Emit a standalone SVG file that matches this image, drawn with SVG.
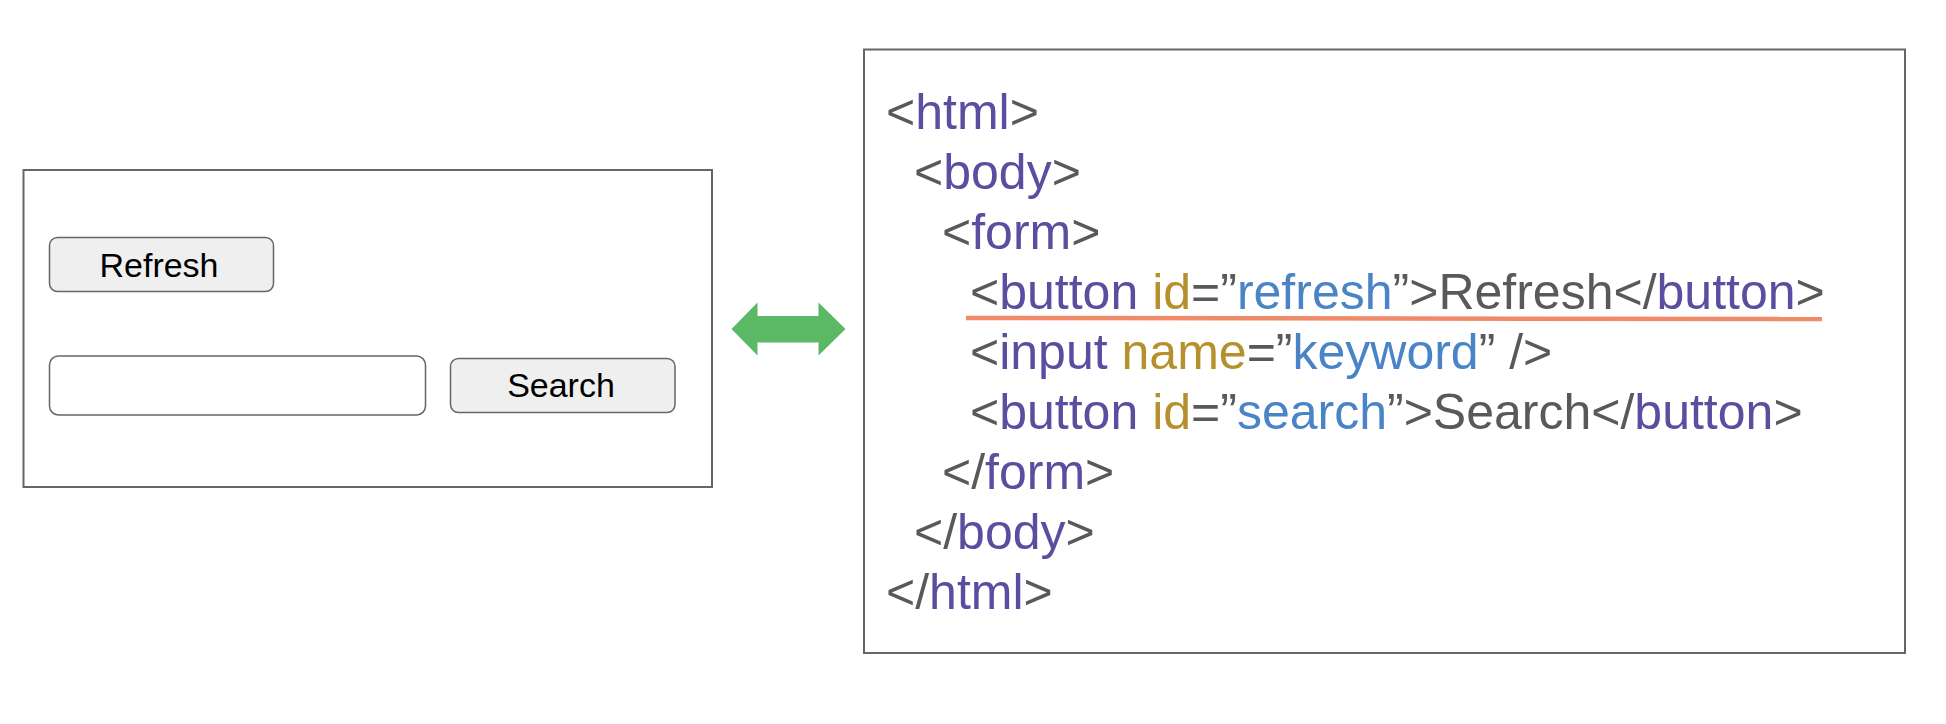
<svg xmlns="http://www.w3.org/2000/svg" width="1946" height="724" viewBox="0 0 1946 724">
<style>
.box{fill:#fff;stroke:#666;stroke-width:2}
.btn{fill:#efefef;stroke:#666;stroke-width:1.5}
.inp{fill:#fff;stroke:#666;stroke-width:1.5}
.lbl{font-family:"Liberation Sans",Arial,sans-serif;font-size:34px;fill:#000;text-anchor:middle}
.code{font-family:"Liberation Sans",Arial,sans-serif;font-size:50px;fill:#595959}
.p{fill:#5b4d9f}
.y{fill:#b6902c}
.b{fill:#4a84c6}
</style>
<rect width="1946" height="724" fill="#fff"/>
<g id="ui-window">
<rect class="box" x="23.5" y="170" width="688.5" height="317"/>
</g>
<g id="refresh-button">
<rect class="btn" x="49.5" y="237.5" width="224" height="54" rx="8"/>
<text class="lbl" x="159" y="277">Refresh</text>
</g>
<g id="keyword-input">
<rect class="inp" x="49.5" y="356" width="376" height="59" rx="9"/>
</g>
<g id="search-button">
<rect class="btn" x="450.5" y="358.5" width="224.5" height="54" rx="8"/>
<text class="lbl" x="561" y="397">Search</text>
</g>
<g id="connectors">
<polygon points="731.5,329 757.5,302.5 757.5,316 818.5,316 818.5,302.5 845.5,329 818.5,355.5 818.5,342.5 757.5,342.5 757.5,355.5" fill="#5bb865"/>
</g>
<g id="html-source">
<rect class="box" x="864" y="49.5" width="1041" height="603.5"/>
<text class="code" x="886" y="129">&lt;<tspan class="p">html</tspan>&gt;</text>
<text class="code" x="914" y="189">&lt;<tspan class="p">body</tspan>&gt;</text>
<text class="code" x="942" y="249">&lt;<tspan class="p">form</tspan>&gt;</text>
<text class="code" x="970" y="309">&lt;<tspan class="p">button</tspan> <tspan class="y">id</tspan>=”<tspan class="b">refresh</tspan>”&gt;Refresh&lt;/<tspan class="p">button</tspan>&gt;</text>
<text class="code" x="970" y="369">&lt;<tspan class="p">input</tspan> <tspan class="y">name</tspan>=”<tspan class="b">keyword</tspan>” /&gt;</text>
<text class="code" x="970" y="429">&lt;<tspan class="p">button</tspan> <tspan class="y">id</tspan>=”<tspan class="b">search</tspan>”&gt;Search&lt;/<tspan class="p">button</tspan>&gt;</text>
<text class="code" x="942" y="489">&lt;/<tspan class="p">form</tspan>&gt;</text>
<text class="code" x="914" y="549">&lt;/<tspan class="p">body</tspan>&gt;</text>
<text class="code" x="886" y="609">&lt;/<tspan class="p">html</tspan>&gt;</text>
<line x1="966" y1="318" x2="1822" y2="319" stroke="#f08a68" stroke-width="4.5"/>
</g>
</svg>
